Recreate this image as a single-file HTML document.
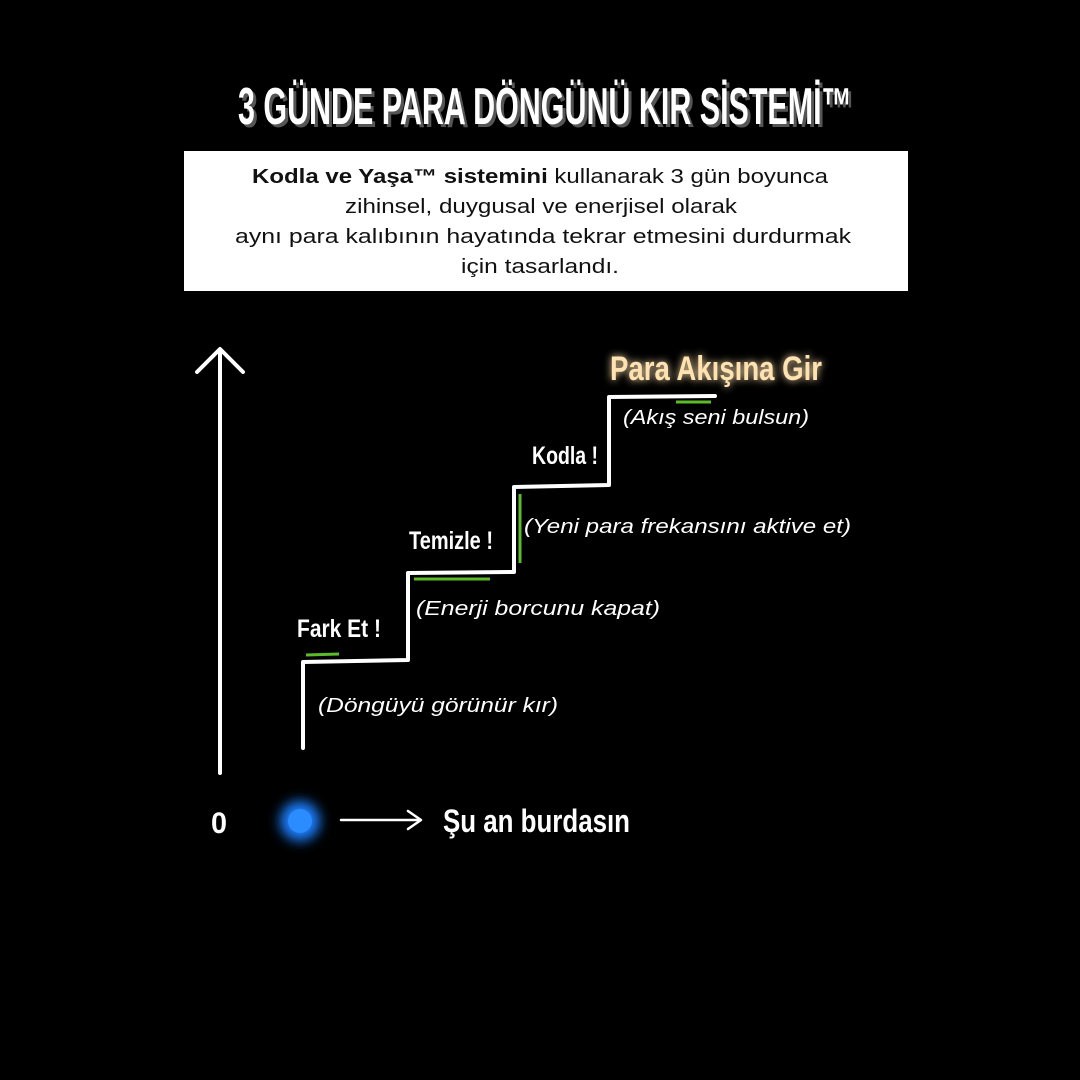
<!DOCTYPE html>
<html><head><meta charset="utf-8"><style>
body{margin:0;background:#000;width:1080px;height:1080px;overflow:hidden;position:relative;font-family:"Liberation Sans",sans-serif}
svg{position:absolute;left:0;top:0}
</style></head><body>
<svg width="1080" height="1080" viewBox="0 0 1080 1080">
<defs>
<filter id="g" x="-50%" y="-50%" width="200%" height="200%"><feGaussianBlur stdDeviation="6"/></filter>
<filter id="t" x="-10%" y="-50%" width="120%" height="200%"><feGaussianBlur stdDeviation="4" result="b"/><feMerge><feMergeNode in="b"/><feMergeNode in="SourceGraphic"/></feMerge></filter>
</defs>
<rect x="184" y="151" width="724" height="140" fill="#fff"/>
<g font-family="'Liberation Sans',sans-serif" font-size="20" fill="#111">
<text x="252" y="183" textLength="576" lengthAdjust="spacingAndGlyphs"><tspan font-weight="bold">Kodla ve Yaşa™ sistemini</tspan> kullanarak 3 gün boyunca</text>
<text x="345" y="213" textLength="392" lengthAdjust="spacingAndGlyphs">zihinsel, duygusal ve enerjisel olarak</text>
<text x="235" y="243" textLength="616" lengthAdjust="spacingAndGlyphs">aynı para kalıbının hayatında tekrar etmesini durdurmak</text>
<text x="461" y="273" textLength="158" lengthAdjust="spacingAndGlyphs">için tasarlandı.</text>
</g>
<g font-family="'Liberation Sans',sans-serif" font-weight="bold" font-size="52">
<text x="241" y="127" textLength="614" lengthAdjust="spacingAndGlyphs" fill="#555">3 GÜNDE PARA DÖNGÜNÜ KIR SİSTEMİ™</text>
<text x="238" y="124" textLength="614" lengthAdjust="spacingAndGlyphs" fill="#fff">3 GÜNDE PARA DÖNGÜNÜ KIR SİSTEMİ™</text>
</g>
<g stroke="#fff" stroke-width="4" fill="none" stroke-linecap="round" stroke-linejoin="round">
<path d="M220 773 V350 M197 372 L220 349 L243 372"/>
<path d="M303 748 V662 L408 660 V573 L514 572 V487 L609 485 V397 L715 396"/>
<path d="M341 820 H420 M408 811 L421 820 L408 829" stroke-width="2.5"/>
</g>
<g stroke="#5dbb2a" stroke-width="3" fill="none">
<path d="M306 655 L339 654 M414 579 L490 579 M520 494 V563 M676 402 L711 402"/>
</g>
<circle cx="300" cy="821" r="20" fill="#1a7fff" filter="url(#g)"/>
<circle cx="300" cy="821" r="12" fill="#2a8cff"/>
<g font-family="'Liberation Sans',sans-serif" font-weight="bold" fill="#fff">
<text x="211" y="833" font-size="30" textLength="16" lengthAdjust="spacingAndGlyphs">0</text>
<text x="443" y="832" font-size="32" textLength="187" lengthAdjust="spacingAndGlyphs">Şu an burdasın</text>
<text x="297" y="637" font-size="25" textLength="84" lengthAdjust="spacingAndGlyphs">Fark Et !</text>
<text x="409" y="549" font-size="25" textLength="84" lengthAdjust="spacingAndGlyphs">Temizle !</text>
<text x="532" y="464" font-size="25" textLength="66" lengthAdjust="spacingAndGlyphs">Kodla !</text>
<text x="610" y="380" font-size="34" fill="#ffe2b0" filter="url(#t)" textLength="212" lengthAdjust="spacingAndGlyphs">Para Akışına Gir</text>
</g>
<g font-family="'Liberation Sans',sans-serif" font-style="italic" font-size="20" fill="#fff">
<text x="318" y="712" textLength="240" lengthAdjust="spacingAndGlyphs">(Döngüyü görünür kır)</text>
<text x="416" y="615" textLength="244" lengthAdjust="spacingAndGlyphs">(Enerji borcunu kapat)</text>
<text x="524" y="533" textLength="327" lengthAdjust="spacingAndGlyphs">(Yeni para frekansını aktive et)</text>
<text x="623" y="424" textLength="186" lengthAdjust="spacingAndGlyphs">(Akış seni bulsun)</text>
</g>
</svg>
</body></html>
